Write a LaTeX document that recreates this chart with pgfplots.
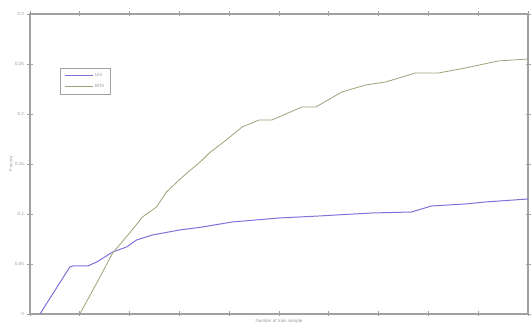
\documentclass[border=0pt]{standalone}
\usepackage{pgfplots}
\pgfplotsset{compat=1.18}
\usepackage{fontspec}
\setmainfont{Liberation Sans}
\definecolor{axgray}{RGB}{160,160,160}
\definecolor{txtgray}{RGB}{150,150,150}
\definecolor{uniblue}{RGB}{125,115,215}
\definecolor{bigreen}{RGB}{150,165,120}
\begin{document}
\begin{tikzpicture}
\begin{axis}[
  at={(0,0)}, anchor=south west,
  scale only axis, width=498pt, height=300pt,
  xmin=0, xmax=10, ymin=0, ymax=0.3,
  xtick={0,1,...,10}, xticklabels={},
  ytick={0,0.05,0.1,0.15,0.2,0.25,0.3},
  yticklabels={0,0.05,0.1,0.15,0.2,0.25,0.3},
  tick align=center, major tick length=5pt,
  tick style={axgray, line width=0.7pt},
  axis line style={axgray, line width=1.1pt},
  tick label style={font=\fontsize{4.5}{4.5}\selectfont, text=txtgray},
  xlabel={Number of train sample}, ylabel={F-score},
  label style={font=\fontsize{4.5}{4.5}\selectfont, text=txtgray},
  xlabel style={yshift=8pt},
  ylabel style={yshift=-4pt},
  legend style={at={(0.06,0.82)}, anchor=north west, draw=axgray,
    font=\fontsize{4.5}{5}\selectfont, text=txtgray,
    inner xsep=4pt, inner ysep=3pt, row sep=2pt},
  legend cell align=left,
  legend image code/.code={\draw[#1] (0pt,0pt) -- (28pt,0pt);},
]
\addlegendimage{draw=uniblue, line width=1pt}
\addlegendentry{Uni}
\addlegendimage{draw=bigreen, line width=0.9pt}
\addlegendentry{BiTri}
\addplot[draw=uniblue, line width=1pt, forget plot] coordinates {
(0.2,0.000) (0.8,0.047) (0.86,0.048) (1.16,0.048) (1.34,0.052) (1.66,0.062)
(1.94,0.067) (2.14,0.074) (2.46,0.079) (3.0,0.084) (3.46,0.087) (4.06,0.092)
(5.0,0.096) (5.8,0.098) (6.86,0.101) (7.66,0.102) (8.06,0.108) (8.74,0.110)
(9.14,0.112) (10.0,0.115)
};
\addplot[draw=bigreen, line width=0.8pt, forget plot] coordinates {
(1.0,0.000) (1.34,0.031) (1.66,0.061) (2.0,0.081) (2.26,0.097) (2.54,0.107)
(2.74,0.122) (3.06,0.137) (3.46,0.154) (3.6,0.161) (3.94,0.174) (4.26,0.187)
(4.6,0.194) (4.86,0.194) (5.46,0.207) (5.74,0.207) (6.26,0.222) (6.74,0.229)
(7.14,0.232) (7.74,0.241) (8.2,0.241) (8.74,0.246) (9.4,0.253) (10.0,0.255)
};
\end{axis}
\pgfresetboundingbox
\path (-30pt,-17pt) rectangle (501pt,314pt);
\end{tikzpicture}
\end{document}
